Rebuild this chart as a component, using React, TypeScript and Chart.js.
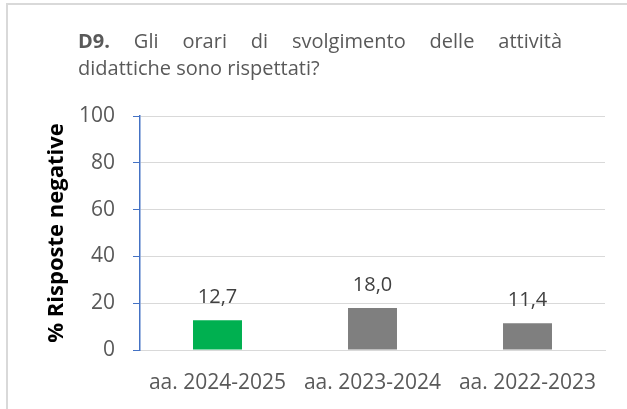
import React, { useEffect, useRef } from "react";
import { Chart, registerables } from "chart.js";

Chart.register(...registerables);

const categories = ["aa. 2024-2025", "aa. 2023-2024", "aa. 2022-2023"];
const values = [12.7, 18.0, 11.4];
const barColors = ["#00b050", "#7f7f7f", "#7f7f7f"];
const yTicks = [0, 20, 40, 60, 80, 100];
const titleBold = "D9.";
const titleLine1 = ["Gli", "orari", "di", "svolgimento", "delle", "attività"];
const titleLine2 = "didattiche sono rispettati?";
const yAxisTitle = "% Risposte negative";

const FONT = "'Open Sans', sans-serif";

const fmt = (v: number) => v.toFixed(1).replace(".", ",");

const titlePlugin = {
  id: "justifiedTitle",
  afterDraw(chart: any) {
    const ctx = chart.ctx as CanvasRenderingContext2D;
    ctx.save();
    ctx.fillStyle = "#595959";
    ctx.textBaseline = "alphabetic";
    ctx.textAlign = "left";
    const left = 78;
    const right = 562;
    const boldFont = `bold 20px ${FONT}`;
    const normFont = `20px ${FONT}`;
    ctx.font = boldFont;
    const w0 = ctx.measureText(titleBold).width;
    ctx.font = normFont;
    const ws = titleLine1.map((w) => ctx.measureText(w).width);
    const total = w0 + ws.reduce((a, b) => a + b, 0);
    const gap = (right - left - total) / titleLine1.length;
    let x = left;
    ctx.font = boldFont;
    ctx.fillText(titleBold, x, 48);
    x += w0 + gap;
    ctx.font = normFont;
    titleLine1.forEach((w, i) => {
      ctx.fillText(w, x, 48);
      x += ws[i] + gap;
    });
    ctx.fillText(titleLine2, left, 75);
    ctx.restore();
  },
};

const labelPlugin = {
  id: "barValueLabels",
  afterDatasetsDraw(chart: any) {
    const ctx = chart.ctx as CanvasRenderingContext2D;
    const meta = chart.getDatasetMeta(0);
    ctx.save();
    ctx.fillStyle = "#404040";
    ctx.font = `20px ${FONT}`;
    ctx.textAlign = "center";
    ctx.textBaseline = "alphabetic";
    meta.data.forEach((bar: any, i: number) => {
      ctx.fillText(fmt(values[i]), bar.x, bar.y - 17);
    });
    ctx.restore();
  },
};

export default function App() {
  const ref = useRef<HTMLCanvasElement | null>(null);

  useEffect(() => {
    if (!ref.current) return;
    const chart = new Chart(ref.current, {
      type: "bar",
      data: {
        labels: categories,
        datasets: [
          {
            data: values,
            backgroundColor: barColors,
            borderWidth: 0,
            barPercentage: 0.316,
            categoryPercentage: 1,
          },
        ],
      },
      options: {
        responsive: false,
        animation: false,
        devicePixelRatio: 1,
        layout: { padding: { top: 116, right: 22, bottom: 1, left: 0 } },
        plugins: {
          legend: { display: false },
          tooltip: { enabled: false },
          title: { display: false },
        },
        scales: {
          x: {
            grid: { display: false, drawTicks: false },
            border: { display: true, color: "#d9d9d9", width: 1 },
            afterFit: (s: any) => {
              s.height = 58;
            },
            ticks: {
              color: "#595959",
              font: { family: FONT, size: 21 },
              padding: 20,
              maxRotation: 0,
              autoSkip: false,
            },
          },
          y: {
            min: 0,
            max: 100,
            afterBuildTicks: (s: any) => {
              s.ticks = yTicks.map((v) => ({ value: v }));
            },
            afterFit: (s: any) => {
              s.width = 140;
            },
            ticks: {
              color: "#595959",
              font: { family: FONT, size: 21 },
              padding: 18,
            },
            grid: {
              color: "#d9d9d9",
              tickColor: "#4472c4",
              tickLength: 7,
              lineWidth: 1,
            },
            border: { color: "#4472c4", width: 1.5 },
            title: {
              display: true,
              text: yAxisTitle,
              color: "#000000",
              font: { family: FONT, size: 22, weight: "bold" },
              padding: { top: 44, bottom: 0 },
            },
          },
        },
      },
      plugins: [titlePlugin, labelPlugin],
    });
    return () => chart.destroy();
  }, []);

  return (
    <div
      style={{
        position: "fixed",
        left: 0,
        top: 0,
        width: 627,
        height: 409,
        background: "#ffffff",
        overflow: "hidden",
      }}
    >
      <div
        style={{
          position: "absolute",
          left: 6,
          top: 3,
          right: 0,
          bottom: 0,
          borderLeft: "2px solid #d9d9d9",
          borderTop: "2px solid #d9d9d9",
        }}
      />
      <canvas
        ref={ref}
        width={627}
        height={409}
        style={{ position: "absolute", left: 0, top: 0, width: 627, height: 409, display: "block" }}
      />
    </div>
  );
}
